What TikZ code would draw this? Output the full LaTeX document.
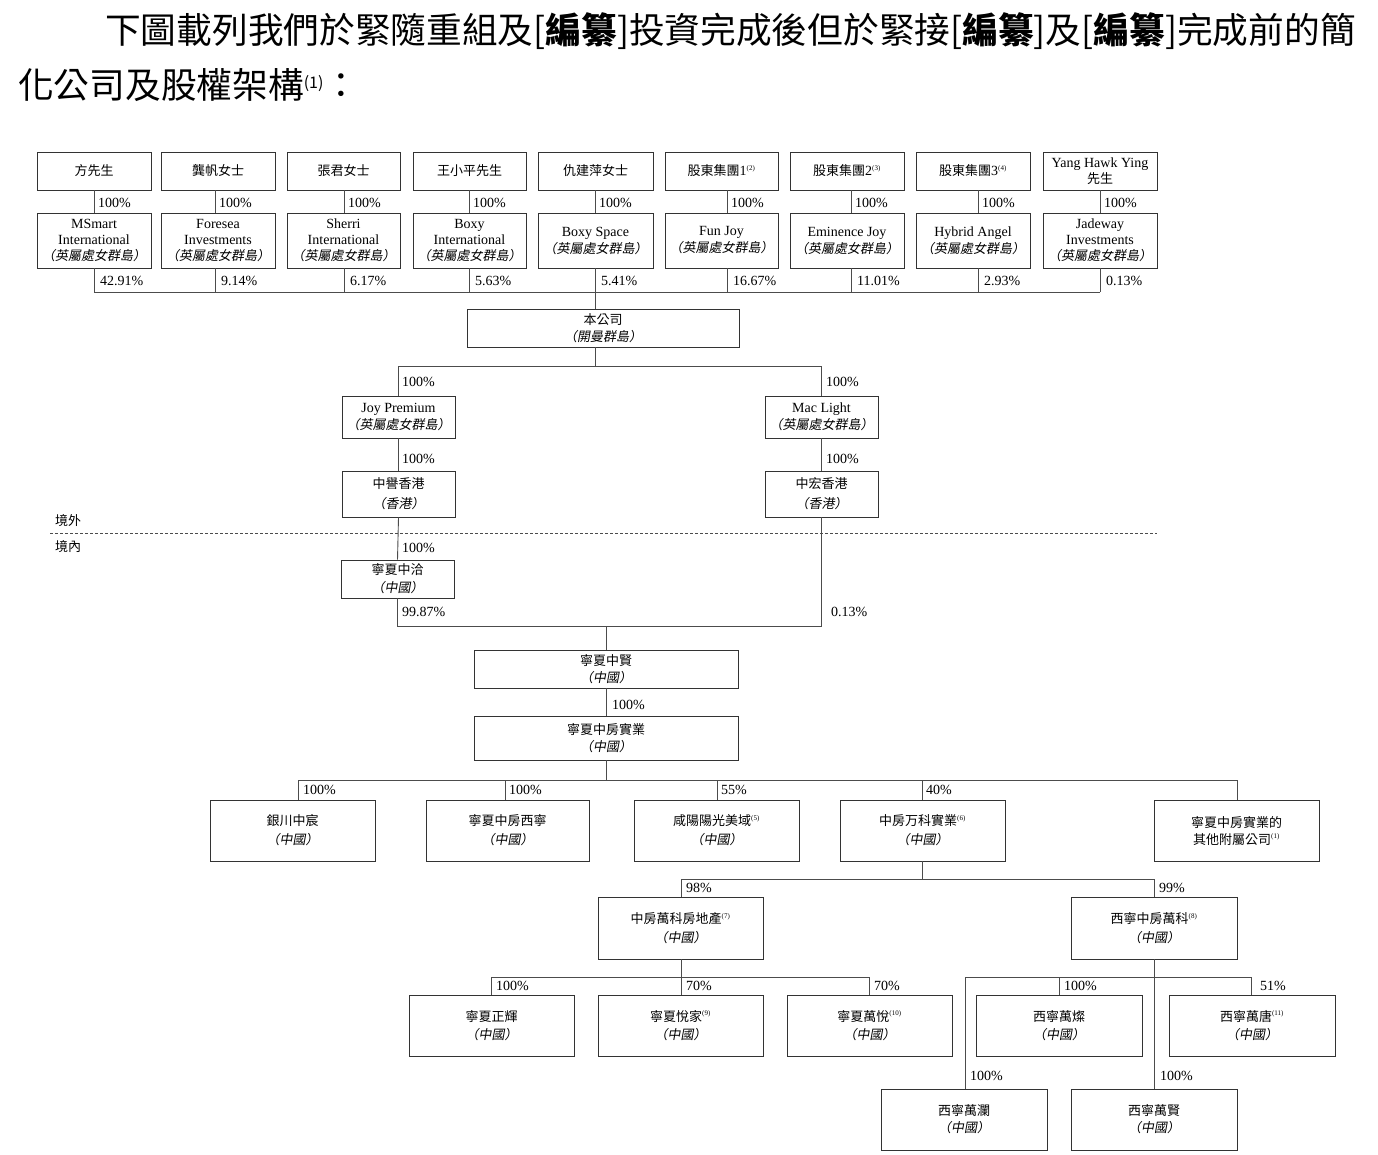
\documentclass[tikz,border=0pt]{standalone}
\usepackage{fontspec}
\setmainfont{Liberation Serif}
\newfontfamily\cjk{Noto Sans CJK TC}
\newfontfamily\cjki[FakeSlant=0.18]{Noto Sans CJK TC}
\newcommand\zh[1]{{\cjk\fontsize{13}{16}\selectfont #1}}
\newcommand\zi[1]{{\cjki\fontsize{13}{16}\selectfont #1}}
\newcommand\nt[1]{\textsuperscript{\fontsize{7}{7}\selectfont(#1)}}
\newcommand\bx[7][]{\node[box,#1,minimum width={(#5)-(#3)},minimum height={(#6)-(#4)}] (#2) at ({((#3)+(#5))/2},{((#4)+(#6))/2}) {#7};}
\begin{document}
\begin{tikzpicture}[x=1pt,y=-1pt,
 box/.style={draw=black!80,line width=0.9pt,inner sep=0pt,align=center,font=\fontsize{14}{17}\selectfont},
 tri/.style={font=\fontsize{14}{16}\selectfont},
 wide/.style={font=\fontsize{14}{18.5}\selectfont},
 ln/.style={draw=black!70,line width=0.9pt},
 pct/.style={anchor=west,inner sep=0pt,font=\fontsize{14}{16}\selectfont},
 zone/.style={anchor=west,inner sep=0pt,font=\cjk\fontsize{13}{16}\selectfont}]
\fill[white] (0,0) rectangle (1378,1154);
\useasboundingbox (0,0) rectangle (1378,1154);
% header
\node[anchor=base west,inner sep=0pt,font=\cjk\fontsize{35.7}{40}\selectfont] (h1) at (105,43)
 {下圖載列我們於緊隨重組及[{\bfseries 編纂}]投資完成後但於緊接[{\bfseries 編纂}]及[{\bfseries 編纂}]完成前的簡};
\node[anchor=base west,inner sep=0pt,font=\cjk\fontsize{35.7}{40}\selectfont] (h2) at (18,98)
 {化公司及股權架構\textsuperscript{\fontsize{16}{16}\selectfont(1)}：};
% top row
\bx{t1}{37}{152}{151}{190}{\zh{方先生}}
\bx{t2}{161}{152}{275}{190}{\zh{龔帆女士}}
\bx{t3}{287}{152}{400}{190}{\zh{張君女士}}
\bx{t4}{413}{152}{526}{190}{\zh{王小平先生}}
\bx{t5}{538}{152}{653}{190}{\zh{仇建萍女士}}
\bx{t6}{665}{152}{778}{190}{\zh{股東集團}1\nt{2}}
\bx{t7}{790}{152}{904}{190}{\zh{股東集團}2\nt{3}}
\bx{t8}{916}{152}{1030}{190}{\zh{股東集團}3\nt{4}}
\bx[tri]{t9}{1043}{152}{1157}{190}{Yang Hawk Ying\\\zh{先生}}
% second row
\bx[tri]{s1}{37}{213}{151}{268}{MSmart\\International\\\zi{（英屬處女群島）}}
\bx[tri]{s2}{161}{213}{275}{268}{Foresea\\Investments\\\zi{（英屬處女群島）}}
\bx[tri]{s3}{287}{213}{400}{268}{Sherri\\International\\\zi{（英屬處女群島）}}
\bx[tri]{s4}{413}{213}{526}{268}{Boxy\\International\\\zi{（英屬處女群島）}}
\bx{s5}{538}{213}{653}{268}{Boxy Space\\\zi{（英屬處女群島）}}
\bx{s6}{665}{213}{778}{268}{Fun Joy\\\zi{（英屬處女群島）}}
\bx{s7}{790}{213}{904}{268}{Eminence Joy\\\zi{（英屬處女群島）}}
\bx{s8}{916}{213}{1030}{268}{Hybrid Angel\\\zi{（英屬處女群島）}}
\bx[tri]{s9}{1043}{213}{1157}{268}{Jadeway\\Investments\\\zi{（英屬處女群島）}}
\foreach \i/\x/\a in {1/94/42.91,2/215/9.14,3/344/6.17,4/469/5.63,5/595/5.41,6/727/16.67,7/851/11.01,8/978/2.93,9/1100/0.13}{
  \coordinate (k\i) at (\x,292);
  \draw[ln] (t\i.south -| k\i) -- (s\i.north -| k\i);
  \draw[ln] (s\i.south -| k\i) -- (k\i);
  \node[pct] (ta\i) at (\x+4,203) {100\%};
  \node[pct] (sa\i) at (\x+6,281) {\a\%};
}
\bx{co}{467}{309}{739}{347}{\zh{本公司}\\\zi{（開曼群島）}}
\draw[ln] (k1) -- (k9);
\draw[ln] (k5) -- (co.north -| k5);
% BVI level
\bx{jp}{342}{396}{455}{438}{Joy Premium\\\zi{（英屬處女群島）}}
\bx{ml}{765}{396}{878}{438}{Mac Light\\\zi{（英屬處女群島）}}
\coordinate (m0) at (595,366);
\draw[ln] (co.south -| m0) -- (m0);
\draw[ln] (jp.north) -- (jp.north |- m0) -- (ml.north |- m0) -- (ml.north);
\node[pct] (pa1) at (402,382) {100\%};
\node[pct] (pa2) at (826,382) {100\%};
\bx[font=\fontsize{14}{20}\selectfont]{hk1}{342}{471}{455}{517}{\zh{中譽香港}\\\zi{（香港）}}
\bx[font=\fontsize{14}{20}\selectfont]{hk2}{765}{471}{878}{517}{\zh{中宏香港}\\\zi{（香港）}}
\draw[ln] (jp.south) -- (hk1.north);
\draw[ln] (ml.south) -- (hk2.north);
\node[pct] (pb1) at (402,459) {100\%};
\node[pct] (pb2) at (826,459) {100\%};
% border
\coordinate (dl) at (50,533);
\coordinate (dr) at (1157,533);
\draw[draw=black!70,line width=0.8pt,dash pattern=on 3pt off 2pt] (dl) -- (dr);
\node[zone] (out) at (55,521) {境外};
\node[zone] (in) at (55,547) {境內};
% onshore
\bx[font=\fontsize{14}{18}\selectfont]{nx}{341}{560}{454}{598}{\zh{寧夏中洽}\\\zi{（中國）}}
\draw[ln] (hk1.south) -- (nx.north);
\node[pct] (pc1) at (402,548) {100\%};
\bx{zx}{474}{650}{738}{688}{\zh{寧夏中賢}\\\zi{（中國）}}
\coordinate (q) at (606,626);
\draw[ln] (nx.south) -- (nx.south |- q) -- (hk2.south |- q) -- (hk2.south);
\draw[ln] (q) -- (zx.north -| q);
\node[pct] (pd1) at (402,612) {99.87\%};
\node[pct] (pd2) at (831,612) {0.13\%};
\bx{sy}{474}{716}{738}{760}{\zh{寧夏中房實業}\\\zi{（中國）}}
\draw[ln] (zx.south) -- (sy.north);
\node[pct] (pe1) at (612,705) {100\%};
% level b
\bx[font=\fontsize{14}{19}\selectfont]{b1}{210}{800}{375}{861}{\zh{銀川中宸}\\\zi{（中國）}}
\bx[font=\fontsize{14}{19}\selectfont]{b2}{426}{800}{589}{861}{\zh{寧夏中房西寧}\\\zi{（中國）}}
\bx[font=\fontsize{14}{19}\selectfont]{b3}{634}{800}{799}{861}{\zh{咸陽陽光美域}\nt{5}\\\zi{（中國）}}
\bx[font=\fontsize{14}{19}\selectfont]{b4}{840}{800}{1005}{861}{\zh{中房万科實業}\nt{6}\\\zi{（中國）}}
\bx{b5}{1154}{800}{1319}{861}{\zh{寧夏中房實業的}\\\zh{其他附屬公司}\nt{1}}
\coordinate (r0) at (606,780);
\draw[ln] (sy.south -| r0) -- (r0);
\foreach \i/\x in {1/298,2/505,3/717,4/922,5/1237}{
  \coordinate (r\i) at (\x,780);
  \draw[ln] (r\i) -- (b\i.north -| r\i);
}
\draw[ln] (r1) -- (r5);
\node[pct] (pf1) at (303,790) {100\%};
\node[pct] (pf2) at (509,790) {100\%};
\node[pct] (pf3) at (721,790) {55\%};
\node[pct] (pf4) at (926,790) {40\%};
% level c
\bx[wide]{c1}{598}{897}{763}{959}{\zh{中房萬科房地產}\nt{7}\\\zi{（中國）}}
\bx[wide]{c2}{1071}{897}{1237}{959}{\zh{西寧中房萬科}\nt{8}\\\zi{（中國）}}
\coordinate (u0) at (922,879);
\coordinate (u1) at (681,879);
\coordinate (u2) at (1154,879);
\draw[ln] (b4.south -| u0) -- (u0);
\draw[ln] (c1.north -| u1) -- (u1) -- (u2) -- (c2.north -| u2);
\node[pct] (pg1) at (686,888) {98\%};
\node[pct] (pg2) at (1159,888) {99\%};
% level d
\bx[wide]{d1}{409}{995}{574}{1056}{\zh{寧夏正輝}\\\zi{（中國）}}
\bx[wide]{d2}{598}{995}{763}{1056}{\zh{寧夏悅家}\nt{9}\\\zi{（中國）}}
\bx[wide]{d3}{787}{995}{952}{1056}{\zh{寧夏萬悅}\nt{10}\\\zi{（中國）}}
\coordinate (v0) at (681,977);
\coordinate (v1) at (491,977);
\coordinate (v3) at (869,977);
\draw[ln] (c1.south -| v0) -- (d2.north -| v0);
\draw[ln] (d1.north -| v1) -- (v1) -- (v3) -- (d3.north -| v3);
\node[pct] (ph1) at (496,986) {100\%};
\node[pct] (ph2) at (686,986) {70\%};
\node[pct] (ph3) at (874,986) {70\%};
% level e
\bx[wide]{e1}{976}{995}{1142}{1056}{\zh{西寧萬燦}\\\zi{（中國）}}
\bx[wide]{e2}{1169}{995}{1335}{1056}{\zh{西寧萬唐}\nt{11}\\\zi{（中國）}}
\bx{e3}{881}{1089}{1047}{1150}{\zh{西寧萬瀾}\\\zi{（中國）}}
\bx{e4}{1071}{1089}{1237}{1150}{\zh{西寧萬賢}\\\zi{（中國）}}
\coordinate (w1) at (965,977);
\coordinate (w2) at (1059,977);
\coordinate (w3) at (1251,977);
\draw[ln] (c2.south -| u2) -- (e4.north -| u2);
\draw[ln] (e3.north -| w1) -- (w1) -- (w3) -- (e2.north -| w3);
\draw[ln] (w2) -- (e1.north -| w2);
\node[pct] (pi1) at (1064,986) {100\%};
\node[pct] (pi2) at (1260,986) {51\%};
\node[pct] (pi3) at (970,1076) {100\%};
\node[pct] (pi4) at (1160,1076) {100\%};
\end{tikzpicture}
\end{document}
